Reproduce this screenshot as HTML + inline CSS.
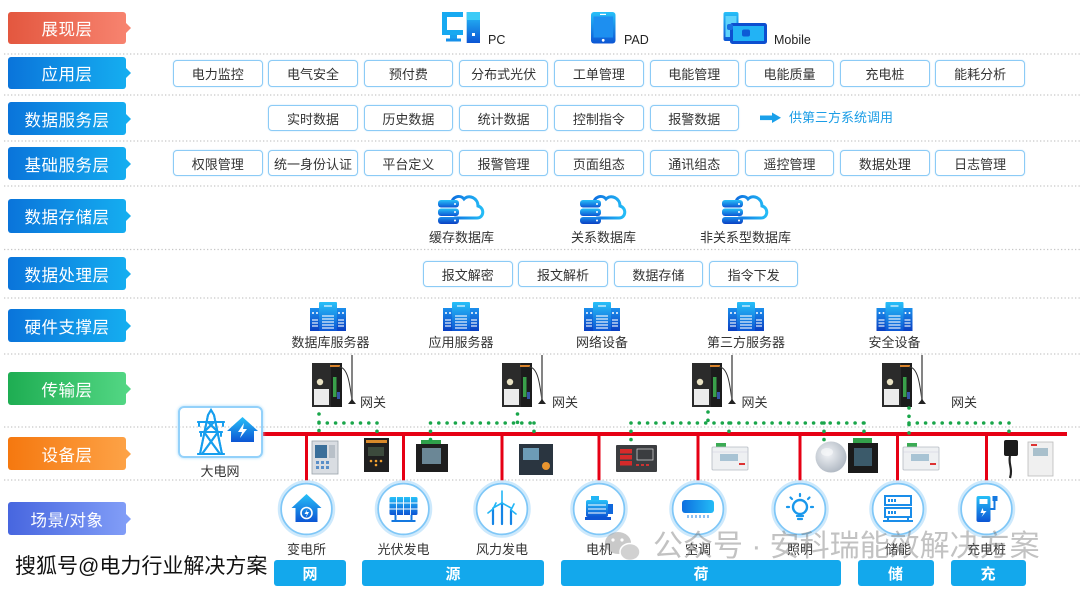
<!DOCTYPE html>
<html><head><meta charset="utf-8">
<style>
*{margin:0;padding:0;box-sizing:border-box}
body{width:1080px;height:591px;background:#fff;position:relative;overflow:hidden;font-family:"Liberation Sans","Noto Sans CJK SC",sans-serif}
.lab{position:absolute;left:8px;width:118px;height:33px;border-radius:3px;color:#fff;font-size:16.5px;display:flex;align-items:center;justify-content:center;letter-spacing:.5px}
.lab:after{content:"";position:absolute;right:-5px;top:50%;margin-top:-5px;border-left:5px solid var(--c);border-top:5px solid transparent;border-bottom:5px solid transparent}
.red{background:linear-gradient(90deg,#e3573f,#f7836f);--c:#f7836f}
.blu{background:linear-gradient(90deg,#0a74da,#15adf0);--c:#15adf0}
.grn{background:linear-gradient(90deg,#1ead52,#52d683);--c:#52d683}
.org{background:linear-gradient(90deg,#f5780f,#fda246);--c:#fda246}
.vio{background:linear-gradient(90deg,#4766df,#819df7);--c:#819df7}
.box{position:absolute;width:89.5px;height:27px;border:1.6px solid #8ccbf6;border-radius:4px;background:#fff;font-size:13px;color:#333;display:flex;align-items:center;justify-content:center;box-shadow:0 0 1.5px #bfe3fb}
.t{position:absolute;font-size:13px;color:#333;white-space:nowrap;line-height:18px;transform:translateX(-50%)}
.tl{position:absolute;font-size:13px;color:#333;white-space:nowrap;line-height:18px}
.bar{position:absolute;top:560px;height:26px;background:#13a8ec;border-radius:3px;color:#fff;font-size:15px;font-weight:bold;display:flex;align-items:center;justify-content:center}
</style></head><body>

<svg width="1080" height="591" style="position:absolute;left:0;top:0">
<defs>
<linearGradient id="gB" x1="0" y1="0" x2="0" y2="1"><stop offset="0" stop-color="#27c0f8"/><stop offset="1" stop-color="#0c55d4"/></linearGradient>
<linearGradient id="gH" x1="0" y1="0" x2="1" y2="0"><stop offset="0" stop-color="#0d6fe0"/><stop offset="1" stop-color="#24bcf6"/></linearGradient>
<linearGradient id="gD" x1="0" y1="0" x2="0" y2="1"><stop offset="0" stop-color="#1b8fec"/><stop offset="1" stop-color="#0a3fc2"/></linearGradient>
<radialGradient id="gS" cx=".4" cy=".4" r=".7"><stop offset="0" stop-color="#f2f4f7"/><stop offset="1" stop-color="#a9b2bd"/></radialGradient>
<g id="cdb">
<path d="M17 25 H39 C46 25 47 15 40 13 C40 5 31 1 26 6 C22 1 13 4 14 11" fill="none" stroke="url(#gH)" stroke-width="3" stroke-linecap="round"/>
<rect x="0" y="7" width="21" height="7.5" rx="3" fill="url(#gB)"/>
<rect x="0" y="15.5" width="21" height="7.5" rx="3" fill="url(#gB)"/>
<rect x="0" y="24" width="21" height="7" rx="3" fill="url(#gD)"/>
<circle cx="17" cy="11" r="1" fill="#fff"/><circle cx="17" cy="19" r="1" fill="#fff"/><circle cx="17" cy="27.5" r="1" fill="#fff"/>
</g>
<g id="srv">
<rect x="0" y="6" width="10" height="23" fill="url(#gD)"/>
<rect x="26" y="6" width="10" height="23" fill="url(#gD)"/>
<rect x="9" y="0" width="18" height="29" rx="1" fill="url(#gB)"/>
<g stroke="#fff" stroke-width="1.1"><line x1="14" y1="4" x2="22" y2="4"/><line x1="12" y1="14" x2="24" y2="14"/><line x1="12" y1="17" x2="24" y2="17"/><line x1="12" y1="20" x2="24" y2="20"/><line x1="12" y1="23" x2="24" y2="23"/><line x1="12" y1="26" x2="24" y2="26"/>
<line x1="2" y1="18" x2="8" y2="18"/><line x1="2" y1="21" x2="8" y2="21"/><line x1="2" y1="24" x2="8" y2="24"/><line x1="28" y1="18" x2="34" y2="18"/><line x1="28" y1="21" x2="34" y2="21"/><line x1="28" y1="24" x2="34" y2="24"/></g>
<circle cx="3" cy="11" r="1" fill="#fff"/><circle cx="7" cy="11" r="1" fill="#fff"/><circle cx="29" cy="11" r="1" fill="#fff"/><circle cx="33" cy="11" r="1" fill="#fff"/>
</g>
<g id="gw">
<rect x="0" y="0" width="30" height="44" fill="#2b2b2b"/>
<rect x="19" y="0" width="11" height="44" fill="#1c1c1c"/>
<rect x="18" y="2" width="10" height="2" fill="#d8822a"/>
<rect x="21" y="14" width="3.5" height="20" fill="#3aa04a"/>
<rect x="2" y="26" width="15" height="16" fill="#ececec"/>
<circle cx="8" cy="19" r="3.2" fill="#e9e2c4"/>
<rect x="25" y="29" width="3" height="7" fill="#3656a8"/>
<path d="M27 4 C36 4 38 22 40 38" fill="none" stroke="#333" stroke-width="1"/>
<line x1="40" y1="-8" x2="40" y2="38" stroke="#666" stroke-width="1.6"/>
<path d="M36 41 L44 41 L40 36 Z" fill="#222"/>
</g>
<g id="din">
<rect x="4" y="0" width="10" height="4" fill="#3bab54"/>
<rect x="0" y="4" width="36" height="23" rx="1" fill="#eef0f2" stroke="#b5bbc2" stroke-width=".8"/>
<rect x="8" y="11" width="18" height="7" fill="#a8c3d4"/>
<rect x="27" y="20" width="6" height="2" fill="#d33"/>
<line x1="0" y1="9" x2="36" y2="9" stroke="#ccd" stroke-width=".6"/>
</g>
</defs>

<!-- separators -->
<g stroke="#c6c6c6" stroke-width="1.3" stroke-dasharray="1.3 2.2">
<line x1="4" y1="54" x2="1080" y2="54"/><line x1="4" y1="95" x2="1080" y2="95"/><line x1="4" y1="141" x2="1080" y2="141"/><line x1="4" y1="186" x2="1080" y2="186"/><line x1="4" y1="249.5" x2="1080" y2="249.5"/><line x1="4" y1="298" x2="1080" y2="298"/><line x1="4" y1="354" x2="1080" y2="354"/><line x1="4" y1="427" x2="1080" y2="427"/><line x1="4" y1="480" x2="1080" y2="480"/>
</g>

<!-- PC -->
<path d="M444.5 14.5 H463 M444.5 12 V35 M442 32.5 H463" stroke="#17a9f1" stroke-width="5" fill="none"/>
<rect x="450" y="35" width="7" height="4" fill="#17a0ee"/><rect x="446" y="38.5" width="15" height="3" fill="#1590ea"/>
<rect x="466.7" y="12" width="13.3" height="31" fill="url(#gB)"/><rect x="466.7" y="12" width="13.3" height="8" fill="#3ccbf7"/>
<rect x="472" y="33" width="3" height="3" fill="#fff"/>
<!-- PAD -->
<rect x="591" y="12" width="24.5" height="31.5" rx="3" fill="url(#gB)"/>
<rect x="593.5" y="16.5" width="19.5" height="21" fill="#1d8ff0"/>
<rect x="600" y="13.8" width="6" height="1.2" fill="#fff"/><circle cx="603.2" cy="40.3" r="1.4" fill="#fff"/>
<!-- Mobile -->
<rect x="723.5" y="12" width="15" height="29" rx="2" fill="url(#gB)"/>
<rect x="725.5" y="16" width="11" height="21" fill="#5fd3fb"/>
<rect x="730" y="23" width="37" height="21" rx="2.5" fill="#0d4fd0"/>
<rect x="733" y="26" width="31" height="15" fill="#22b3f5"/>
<rect x="742" y="29.5" width="8" height="7" rx="2" fill="#0d5ad6"/><rect x="727" y="24" width="6" height="6" rx="2" fill="#1a6fe0"/>

<!-- arrow -->
<rect x="760" y="115.5" width="13" height="4.6" fill="#1aa0ea"/><path d="M772 112.5 L781 117.8 L772 123 Z" fill="#1aa0ea"/>

<!-- cloud db -->
<use href="#cdb" x="438" y="193"/><use href="#cdb" x="580" y="193"/><use href="#cdb" x="722" y="193"/>
<!-- servers -->
<use href="#srv" x="310" y="302"/><use href="#srv" x="443" y="302"/><use href="#srv" x="584" y="302"/><use href="#srv" x="728" y="302"/><use href="#srv" x="876.5" y="302"/>

<!-- big grid box icons -->
<g stroke="#169eee" stroke-width="2" fill="none" stroke-linecap="round">
<path d="M208 415 L200 454 M214 415 L222 454 M208 415 L211 410 L214 415"/>
<path d="M198 422 H224 M200 432 H222 M208 422 L218 432 M214 422 L204 432 M204 432 L220 454 M218 432 L202 454 M198 454 H224"/>
<path d="M199 422 V426 M223 422 V426 M201 432 V436 M221 432 V436"/>
</g>
<path d="M227 431 L242.5 417 L258 431 L254 431 L254 442 L231 442 L231 431 Z" fill="url(#gB)"/>
<path d="M244 423 L238 432 L242 432 L240 438 L247 429 L243 429 Z" fill="#fff"/>

<!-- red bus -->
<rect x="263" y="432" width="804" height="4" fill="#e60014"/>
<g fill="#e60014">
<rect x="305" y="434" width="3" height="50"/><rect x="402" y="434" width="3" height="50"/><rect x="500.5" y="434" width="3" height="50"/><rect x="597.5" y="434" width="3" height="50"/><rect x="696.5" y="434" width="3" height="50"/><rect x="798.5" y="434" width="3" height="50"/><rect x="896" y="434" width="3" height="50"/><rect x="985" y="434" width="3" height="50"/>
</g>

<!-- gateways -->
<use href="#gw" x="312" y="363"/><use href="#gw" x="502" y="363"/><use href="#gw" x="692" y="363"/><use href="#gw" x="882" y="363"/>

<!-- devices -->
<rect x="312" y="441" width="26" height="33" fill="#d9dde2" stroke="#9aa3ab" stroke-width=".8"/>
<rect x="315" y="445" width="12" height="13" fill="#3a6f9a"/><rect x="329" y="445" width="6" height="13" fill="#b8c0c8"/>
<g fill="#5a8fc8"><rect x="316" y="461" width="3" height="3"/><rect x="321" y="461" width="3" height="3"/><rect x="326" y="461" width="3" height="3"/><rect x="316" y="466" width="3" height="3"/><rect x="321" y="466" width="3" height="3"/><rect x="326" y="466" width="3" height="3"/></g>
<rect x="364" y="438" width="25" height="34" fill="#1f1f1f"/><rect x="366" y="440" width="21" height="3" fill="#d98a2a"/><rect x="368" y="447" width="16" height="9" fill="#3c4a3c"/>
<g fill="#f0a030"><circle cx="371" cy="461" r="1.3"/><circle cx="376" cy="461" r="1.3"/><circle cx="381" cy="461" r="1.3"/><circle cx="376" cy="465" r="1.3"/></g>
<rect x="421" y="440" width="20" height="5" fill="#2fa04a"/><rect x="416" y="444" width="32" height="28" fill="#1e1e1e"/><rect x="422" y="448" width="19" height="16" fill="#6b8796"/>
<rect x="519" y="444" width="34" height="31" fill="#2a3540"/><rect x="523" y="448" width="16" height="12" fill="#6d9cb6"/><circle cx="546" cy="466" r="4" fill="#e8952f"/>
<rect x="616" y="445" width="41" height="27" rx="1" fill="#3b3d40"/>
<g fill="#d62a2a"><rect x="620" y="449" width="12" height="4.5"/><rect x="620" y="455" width="12" height="4.5"/><rect x="620" y="461" width="12" height="4.5"/></g>
<rect x="637" y="449" width="16" height="11" fill="none" stroke="#ddd" stroke-width=".7"/>
<g fill="#c33"><rect x="636" y="464" width="3" height="2"/><rect x="641" y="464" width="3" height="2"/><rect x="646" y="464" width="3" height="2"/></g>
<use href="#din" x="712" y="443"/>
<circle cx="831" cy="457" r="15.5" fill="url(#gS)"/><ellipse cx="827" cy="452" rx="6" ry="4" fill="#f6f8fa" opacity=".7"/>
<rect x="853" y="438" width="19" height="5" fill="#33a04a"/><rect x="848" y="443" width="30" height="30" fill="#1a1a1a"/><rect x="854" y="448" width="18" height="18" fill="#3b5a6a"/>
<use href="#din" x="903" y="443"/>
<rect x="1004" y="440" width="14" height="16" rx="2" fill="#1b1b1b"/><path d="M1010 456 C1008 464 1013 468 1010 478" stroke="#222" stroke-width="2.2" fill="none"/>
<rect x="1028" y="442" width="25" height="34" fill="#f0f0f0" stroke="#bbb" stroke-width=".8"/><rect x="1033" y="448" width="15" height="8" fill="#a9c0cc"/><rect x="1031" y="444" width="6" height="2" fill="#d33"/>

<!-- green dotted -->
<g stroke="#19a64a" stroke-width="3.6" stroke-linecap="round" stroke-dasharray="0 8.3" fill="none">
<path d="M319 414 V433 M319 423 H377 M377 423 V435"/>
<path d="M517.5 414 V423 M430.5 423 H534 M430.5 423 V441 M534 423 V433"/>
<path d="M708 412 V423 M631 423 H864 M631 423 V443 M729 423 V436 M824 423 V444 M864 423 V436"/>
<path d="M909 408 V436 M909 423 H1001 M1009 423 V432"/>
</g>

<!-- circles -->
<g fill="#fff" stroke="#7fc7f7" stroke-width="2">
<circle cx="306.5" cy="509" r="25.5"/><circle cx="403.5" cy="509" r="25.5"/><circle cx="502" cy="509" r="25.5"/><circle cx="599" cy="509" r="25.5"/><circle cx="698" cy="509" r="25.5"/><circle cx="800" cy="509" r="25.5"/><circle cx="898" cy="509" r="25.5"/><circle cx="986.5" cy="509" r="25.5"/>
</g>
<g fill="none" stroke="#cde9fc" stroke-width="2.5">
<circle cx="306.5" cy="509" r="27.5"/><circle cx="403.5" cy="509" r="27.5"/><circle cx="502" cy="509" r="27.5"/><circle cx="599" cy="509" r="27.5"/><circle cx="698" cy="509" r="27.5"/><circle cx="800" cy="509" r="27.5"/><circle cx="898" cy="509" r="27.5"/><circle cx="986.5" cy="509" r="27.5"/>
</g>
<!-- 变电所 -->
<g transform="translate(306.5,509)"><path d="M-15 -1 L0 -15 L15 -1 L11 -1 L11 13 L-11 13 L-11 -1 Z" fill="url(#gB)"/><circle cx="0" cy="4" r="5.5" fill="none" stroke="#fff" stroke-width="1.6"/><path d="M1 0 L-2 5 L0.5 5 L-1 9 L2.5 3 L0 3 Z" fill="#fff"/></g>
<!-- 光伏 -->
<g transform="translate(403.5,509)"><rect x="-14" y="-12" width="28" height="18" rx="1.5" fill="url(#gB)"/><g stroke="#fff" stroke-width=".9"><line x1="-7" y1="-12" x2="-7" y2="6"/><line x1="0" y1="-12" x2="0" y2="6"/><line x1="7" y1="-12" x2="7" y2="6"/><line x1="-14" y1="-6" x2="14" y2="-6"/><line x1="-14" y1="0" x2="14" y2="0"/></g><path d="M-8 6 V12 M8 6 V12 M-12 12 H12" stroke="#1478e0" stroke-width="2"/></g>
<!-- 风力 -->
<g transform="translate(502,509)" stroke="#1585e6" stroke-linecap="round" fill="none"><path d="M0 -6 V15 M-9 0 V15 M9 1 V15" stroke-width="2.2"/><path d="M0 -6 L0 -18 M0 -6 L-9 -1 M0 -6 L9 -1 M-9 0 L-14 4 M-9 0 L-6 -6 M9 1 L14 5 M9 1 L12 -5" stroke-width="1.6" stroke="#22b5f5"/></g>
<!-- 电机 -->
<g transform="translate(599,509)"><rect x="-8" y="-13" width="8" height="4" fill="#22b5f5"/><rect x="-13" y="-9" width="22" height="17" rx="2" fill="url(#gB)"/><g stroke="#fff" stroke-width="1"><line x1="-11" y1="-4" x2="7" y2="-4"/><line x1="-11" y1="0" x2="7" y2="0"/><line x1="-11" y1="4" x2="7" y2="4"/></g><rect x="9" y="-5" width="5" height="10" fill="#1068dc"/><rect x="-14" y="8" width="26" height="3" fill="#0d55d4"/></g>
<!-- 空调 -->
<g transform="translate(698,509)"><rect x="-16" y="-9" width="32" height="13" rx="3" fill="url(#gH)"/><g stroke="#1a7fe6" stroke-width="1"><line x1="-10" y1="6" x2="-10" y2="9"/><line x1="-6" y1="6" x2="-6" y2="9"/><line x1="-2" y1="6" x2="-2" y2="9"/><line x1="2" y1="6" x2="2" y2="9"/><line x1="6" y1="6" x2="6" y2="9"/><line x1="10" y1="6" x2="10" y2="9"/></g></g>
<!-- 照明 -->
<g transform="translate(800,509)" stroke="#1a98ec" fill="none" stroke-linecap="round"><circle cx="0" cy="-2" r="7" stroke-width="2.4"/><path d="M-3 7 H3 M-2 10 H2" stroke-width="2.2"/><path d="M0 -15 V-13 M-11 -2 H-13 M11 -2 H13 M-8 -10 L-9.5 -11.5 M8 -10 L9.5 -11.5" stroke-width="2.2"/></g>
<!-- 储能 -->
<g transform="translate(898,509)" stroke="#1a8de9" fill="none" stroke-width="2"><rect x="-13" y="-13" width="26" height="9"/><rect x="-13" y="-1" width="26" height="9"/><path d="M-9 -10 V-7 M-6 -10 V-7 M-3 -10 V-7 M-9 2 V5 M-6 2 V5 M-3 2 V5 M-15 12 H15 M-10 8 V12 M10 8 V12"/></g>
<!-- 充电桩 -->
<g transform="translate(986.5,509)"><rect x="-10" y="-13" width="14" height="26" rx="2" fill="url(#gB)"/><rect x="-7" y="-10" width="8" height="5" fill="#fff"/><path d="M-4 -1 L-6 4 L-3 4 L-5 8 L0 2 L-3 2 Z" fill="#fff"/><path d="M4 0 H8 V-8" stroke="#1478e0" stroke-width="2" fill="none"/><rect x="6" y="-13" width="5" height="5" fill="#1478e0"/></g>

<!-- wechat watermark icon -->
<g opacity=".45"><ellipse cx="618" cy="543" rx="13" ry="11" fill="#8a8a8a"/><ellipse cx="630" cy="552" rx="10" ry="8.5" fill="#9a9a9a" stroke="#fff" stroke-width="1.5"/><circle cx="613" cy="540" r="1.6" fill="#fff"/><circle cx="622" cy="540" r="1.6" fill="#fff"/></g>
</svg>

<!-- 大电网 box -->
<div style="position:absolute;left:178px;top:406px;width:85px;height:52px;border:2px solid #93d1fa;border-radius:6px;box-shadow:0 0 3px #a9dcfb"></div>
<svg width="1080" height="591" style="position:absolute;left:0;top:0">
<g stroke="#169eee" stroke-width="2" fill="none" stroke-linecap="round">
<path d="M208 415 L200 454 M214 415 L222 454 M208 415 L211 410 L214 415"/>
<path d="M198 422 H224 M200 432 H222 M208 422 L218 432 M214 422 L204 432 M204 432 L220 454 M218 432 L202 454 M198 454 H224"/>
</g>
</svg>

<!-- layer labels -->
<div class="lab red" style="top:12px;height:32px">展现层</div>
<div class="lab blu" style="top:57px;height:32px">应用层</div>
<div class="lab blu" style="top:102px">数据服务层</div>
<div class="lab blu" style="top:147px">基础服务层</div>
<div class="lab blu" style="top:199px;height:34px">数据存储层</div>
<div class="lab blu" style="top:257px">数据处理层</div>
<div class="lab blu" style="top:309px">硬件支撑层</div>
<div class="lab grn" style="top:372px">传输层</div>
<div class="lab org" style="top:437px">设备层</div>
<div class="lab vio" style="top:502px">场景/对象</div>

<!-- device labels -->
<div class="tl" style="left:488px;top:31px;font-size:12.5px;color:#222">PC</div>
<div class="tl" style="left:624px;top:31px;font-size:12.5px;color:#222">PAD</div>
<div class="tl" style="left:774px;top:31px;font-size:12.5px;color:#222">Mobile</div>

<!-- app row -->
<div class="box" style="left:173px;top:60px">电力监控</div>
<div class="box" style="left:268.3px;top:60px">电气安全</div>
<div class="box" style="left:363.6px;top:60px">预付费</div>
<div class="box" style="left:458.9px;top:60px">分布式光伏</div>
<div class="box" style="left:554.2px;top:60px">工单管理</div>
<div class="box" style="left:649.5px;top:60px">电能管理</div>
<div class="box" style="left:744.8px;top:60px">电能质量</div>
<div class="box" style="left:840.1px;top:60px">充电桩</div>
<div class="box" style="left:935.4px;top:60px">能耗分析</div>

<!-- data service -->
<div class="box" style="left:268.3px;top:105px;height:26px">实时数据</div>
<div class="box" style="left:363.6px;top:105px;height:26px">历史数据</div>
<div class="box" style="left:458.9px;top:105px;height:26px">统计数据</div>
<div class="box" style="left:554.2px;top:105px;height:26px">控制指令</div>
<div class="box" style="left:649.5px;top:105px;height:26px">报警数据</div>
<div class="tl" style="left:789px;top:109px;color:#1b9de6">供第三方系统调用</div>

<!-- base service -->
<div class="box" style="left:173px;top:150px;height:26px">权限管理</div>
<div class="box" style="left:268.3px;top:150px;height:26px">统一身份认证</div>
<div class="box" style="left:363.6px;top:150px;height:26px">平台定义</div>
<div class="box" style="left:458.9px;top:150px;height:26px">报警管理</div>
<div class="box" style="left:554.2px;top:150px;height:26px">页面组态</div>
<div class="box" style="left:649.5px;top:150px;height:26px">通讯组态</div>
<div class="box" style="left:744.8px;top:150px;height:26px">遥控管理</div>
<div class="box" style="left:840.1px;top:150px;height:26px">数据处理</div>
<div class="box" style="left:935.4px;top:150px;height:26px">日志管理</div>

<!-- storage -->
<div class="t" style="left:461.5px;top:229px">缓存数据库</div>
<div class="t" style="left:603.5px;top:229px">关系数据库</div>
<div class="t" style="left:745.5px;top:229px">非关系型数据库</div>

<!-- processing -->
<div class="box" style="left:423px;top:261px;height:26px">报文解密</div>
<div class="box" style="left:518.3px;top:261px;height:26px">报文解析</div>
<div class="box" style="left:613.6px;top:261px;height:26px">数据存储</div>
<div class="box" style="left:708.9px;top:261px;height:26px">指令下发</div>

<!-- hardware -->
<div class="t" style="left:330.5px;top:334px">数据库服务器</div>
<div class="t" style="left:461px;top:334px">应用服务器</div>
<div class="t" style="left:602px;top:334px">网络设备</div>
<div class="t" style="left:746px;top:334px">第三方服务器</div>
<div class="t" style="left:894.5px;top:334px">安全设备</div>

<!-- gateways -->
<div class="tl" style="left:360px;top:394px">网关</div>
<div class="tl" style="left:552px;top:394px">网关</div>
<div class="tl" style="left:741.5px;top:394px">网关</div>
<div class="tl" style="left:951px;top:394px">网关</div>

<div class="t" style="left:220px;top:463px">大电网</div>

<!-- scene labels -->
<div class="t" style="left:306.5px;top:541px">变电所</div>
<div class="t" style="left:403.5px;top:541px">光伏发电</div>
<div class="t" style="left:502px;top:541px">风力发电</div>
<div class="t" style="left:599px;top:541px">电机</div>
<div class="t" style="left:698px;top:541px">空调</div>
<div class="t" style="left:800px;top:541px">照明</div>
<div class="t" style="left:898px;top:541px">储能</div>
<div class="t" style="left:986.5px;top:541px">充电桩</div>

<!-- bars -->
<div class="bar" style="left:274px;width:72px">网</div>
<div class="bar" style="left:362px;width:182px">源</div>
<div class="bar" style="left:561px;width:280px">荷</div>
<div class="bar" style="left:857.5px;width:76px">储</div>
<div class="bar" style="left:950.5px;width:75px">充</div>

<!-- watermarks -->
<div style="position:absolute;left:15px;top:554px;font-size:21px;line-height:26px;color:#111;white-space:nowrap;text-shadow:-1px -1px 0 #fff,1px -1px 0 #fff,-1px 1px 0 #fff,1px 1px 0 #fff,0 0 2px #fff">搜狐号@电力行业解决方案</div>
<div style="position:absolute;left:653px;top:530px;font-size:30px;line-height:34px;color:rgba(110,110,110,.42);white-space:nowrap">公众号 · 安科瑞能效解决方案</div>
</body></html>
